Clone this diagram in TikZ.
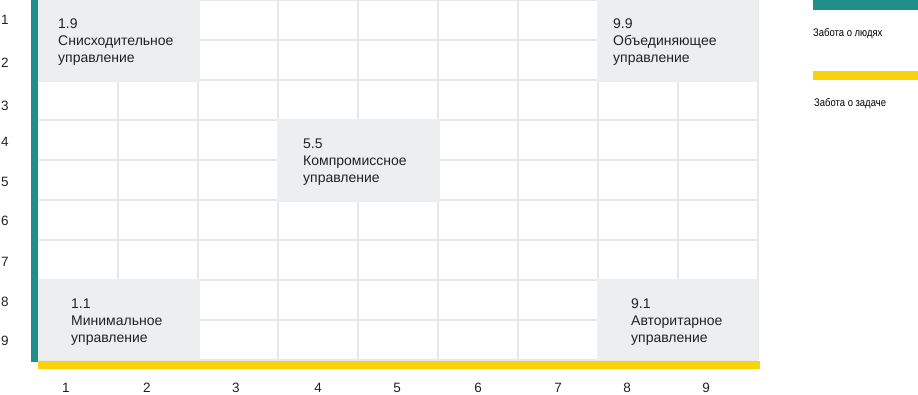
\documentclass[tikz,border=0pt]{standalone}
\usepackage{fontspec}
\setmainfont{Liberation Sans}
\newfontfamily\narrowfont[FakeStretch=0.86]{Liberation Sans}
\usetikzlibrary{positioning}
\definecolor{peopleteal}{HTML}{1F8F8C}
\definecolor{taskyellow}{HTML}{F9D30A}
\definecolor{blockgray}{HTML}{EDEEF0}
\definecolor{gridgray}{HTML}{E7E8E9}
\definecolor{inkgray}{HTML}{222222}

\begin{document}
\begin{tikzpicture}[x=1pt, y=-1pt,
    gridline/.style={draw=gridgray, line width=2.6pt},
    styleblock/.style={fill=blockgray},
    stylename/.style={align=left, anchor=base west, inner sep=0pt, text=inkgray,
      font=\fontsize{14}{17}\selectfont},
    axisnum/.style={inner sep=0pt, text=inkgray, font=\fontsize{13.5}{15}\selectfont},
    legendtext/.style={anchor=west, inner sep=0pt, text=black,
      font=\narrowfont\fontsize{11}{13}\selectfont}]
        \useasboundingbox (0,0) rectangle (918,394);

        % Grid
        \foreach \i in {1,...,9}
            \draw[gridline] ({38+80*\i},0) -- ({38+80*\i},360);
        \foreach \j in {0,...,9}
            \draw[gridline] (38,{40*\j}) -- (758,{40*\j});

        % Blocks
        \fill[styleblock] (38,0) rectangle (199.5,81.5);
        \fill[styleblock] (596.5,0) rectangle (758,81.5);
        \fill[styleblock] (276.5,118.5) rectangle (439.5,201.5);
        \fill[styleblock] (38,278.5) rectangle (199.5,360);
        \fill[styleblock] (596.5,278.5) rectangle (758,360);

        % Axes
        \fill[peopleteal] (31,0) rectangle (38,362);
        \fill[taskyellow] (38,361) rectangle (760,369);

        % Nodes (anchored on the last line)
        \node[stylename] (s19) at (58,62) {1.9\\Снисходительное\\управление};
        \node[stylename] (s99) at (613,62) {9.9\\Объединяющее\\управление};
        \node[stylename] (s55) at (303,182) {5.5\\Компромиссное\\управление};
        \node[stylename] (s11) at (71,342) {1.1\\Минимальное\\управление};
        \node[stylename] (s91) at (631,342) {9.1\\Авторитарное\\управление};

        % Numbers
        \foreach \n/\y in {1/20,2/63,3/106,4/142,5/182,6/221,7/262,8/302,9/341}
            \node[axisnum] (row\n) at (5,\y) {\n};
        \foreach \n/\x in {1/66,2/147,3/236,4/318,5/397,6/478,7/558,8/627,9/706}
            \node[axisnum] (col\n) at (\x,388) {\n};

        % Legend
        \fill[peopleteal] (813,0) rectangle (918,10);
        \node[legendtext] (people) at (813,34) {Забота о людях};
        \fill[taskyellow] (813,71) rectangle (918,80);
        \node[legendtext] (task) at (814,104) {Забота о задаче};
    \end{tikzpicture}
\end{document}
